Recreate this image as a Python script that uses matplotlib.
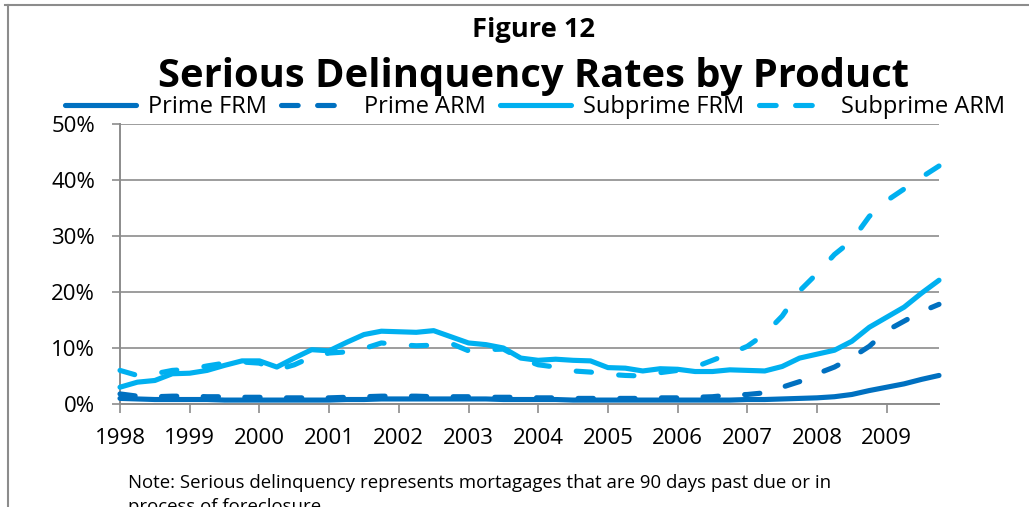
import matplotlib
matplotlib.use("Agg")
import matplotlib.pyplot as plt
import numpy as np
from matplotlib.lines import Line2D

# ---------------- data (quarterly, 1998Q1 .. 2009Q4, percent) ----------------
years = list(range(1998, 2010))
year_labels = [str(y) for y in years]

prime_frm = [1.0, 0.9, 0.8, 0.8,
             0.8, 0.8, 0.7, 0.7,
             0.7, 0.7, 0.7, 0.7,
             0.7, 0.8, 0.8, 0.9,
             0.9, 0.9, 0.9, 0.9,
             0.9, 0.9, 0.8, 0.8,
             0.8, 0.8, 0.7, 0.7,
             0.7, 0.7, 0.7, 0.7,
             0.7, 0.7, 0.7, 0.7,
             0.8, 0.8, 0.9, 1.0,
             1.1, 1.3, 1.7, 2.4,
             3.0, 3.6, 4.4, 5.1]

prime_arm = [1.8, 1.4, 1.3, 1.4,
             1.4, 1.3, 1.3, 1.2,
             1.2, 1.1, 1.1, 1.1,
             1.1, 1.2, 1.3, 1.4,
             1.4, 1.4, 1.3, 1.3,
             1.3, 1.2, 1.2, 1.2,
             1.1, 1.1, 1.0, 1.0,
             1.0, 1.0, 1.0, 1.1,
             1.1, 1.2, 1.3, 1.6,
             1.7, 2.0, 3.0, 4.0,
             5.4, 6.6, 8.3, 10.3,
             13.1, 14.8, 16.5, 17.8]

subprime_frm = [3.0, 3.9, 4.2, 5.4,
                5.5, 6.0, 6.9, 7.7,
                7.7, 6.6, 8.2, 9.7,
                9.5, 11.0, 12.4, 13.0,
                12.9, 12.8, 13.1, 12.0,
                10.9, 10.6, 10.0, 8.2,
                7.8, 8.0, 7.8, 7.7,
                6.5, 6.4, 5.9, 6.3,
                6.2, 5.8, 5.8, 6.1,
                6.0, 5.9, 6.7, 8.2,
                8.9, 9.6, 11.2, 13.7,
                15.5, 17.3, 19.8, 22.1]

subprime_arm = [6.0, 5.1, 5.4, 6.0,
                6.2, 6.8, 7.3, 7.5,
                7.3, 6.1, 7.0, 8.4,
                9.1, 9.3, 9.9, 10.9,
                10.6, 10.4, 10.5, 10.8,
                9.5, 9.7, 9.8, 8.1,
                7.0, 6.6, 5.9, 5.7,
                5.3, 5.1, 5.0, 5.6,
                6.0, 6.6, 7.8, 9.0,
                10.3, 12.5, 15.7, 20.2,
                23.3, 26.7, 29.2, 33.5,
                36.3, 38.4, 40.5, 42.5]

series_names = ["Prime FRM", "Prime ARM", "Subprime FRM", "Subprime ARM"]
y_ticks = [0, 10, 20, 30, 40, 50]
y_tick_labels = ["0%", "10%", "20%", "30%", "40%", "50%"]

# ---------------- style ----------------
DARK = "#0070C0"
LIGHT = "#00B0F0"
GRID = "#8C8C8C"
FONT = ["Open Sans", "DejaVu Sans"]
plt.rcParams["font.family"] = FONT
plt.rcParams["lines.scale_dashes"] = False

W, H, DPI = 1029, 507, 100
fig = plt.figure(figsize=(W / DPI, H / DPI), dpi=DPI)
ax = fig.add_axes([120 / W, 1 - 404 / H, (939 - 120) / W, (404 - 124) / H])

x = years[0] + np.arange(len(prime_frm)) * 0.25
lw = 3.7
ON, OFF = 11.0, 19.0
dash = (0, (ON, OFF))
specs = [(prime_frm, DARK, "-"), (prime_arm, DARK, dash),
         (subprime_frm, LIGHT, "-"), (subprime_arm, LIGHT, dash)]
lines = []
for (vals, col, ls), name in zip(specs, series_names):
    ln, = ax.plot(x, vals, color=col, lw=lw, linestyle=ls, label=name,
                  solid_capstyle="round", dash_capstyle="round",
                  solid_joinstyle="round", dash_joinstyle="round", clip_on=False, zorder=3)
    lines.append(ln)

ax.set_xlim(x[0], x[-1])
ax.set_ylim(0, 50)
ax.set_yticks(y_ticks)
ax.set_yticklabels(y_tick_labels)
ax.set_xticks(years)
ax.set_xticklabels(year_labels)
ax.grid(axis="y", color=GRID, lw=1.2, zorder=1)
ax.set_axisbelow(True)
for s in ["top", "right"]:
    ax.spines[s].set_visible(False)
for s in ["left", "bottom"]:
    ax.spines[s].set_color(GRID)
    ax.spines[s].set_linewidth(1.4)
TICK_FS = 16
ax.tick_params(axis="y", length=6, width=1.2, color=GRID, pad=12, labelsize=TICK_FS)
ax.tick_params(axis="x", length=6.5, width=1.2, color=GRID, pad=11, labelsize=TICK_FS)

# make the Subprime ARM dash pattern start and end on a dash (as in the original)
pts = ax.transData.transform(np.column_stack([x, subprime_arm]))
L = np.sum(np.hypot(*np.diff(pts, axis=0).T)) * 72.0 / DPI
n = max(1, round((L - ON) / (ON + OFF)))
period = (L - ON) / n
lines[3].set_linestyle((0, (ON, period - ON)))

# legend
LEG_FS = 17.0
handles = [Line2D([], [], color=c, lw=lw, linestyle=(0, (12, 14)) if ls != "-" else "-",
                  solid_capstyle="round", dash_capstyle="round")
           for (_, c, ls) in specs]
leg = fig.legend(handles, series_names, loc="center left", ncol=4, frameon=False,
                 bbox_to_anchor=(65 / W, 1 - 107 / H), fontsize=LEG_FS,
                 handlelength=3.0, handletextpad=0.5, columnspacing=0.62,
                 borderpad=0, borderaxespad=0)

# titles
t1 = fig.text(533 / W, 1 - 30 / H, "Figure 12", ha="center", va="center",
              fontsize=17, fontweight="bold")
t2 = fig.text(533 / W, 1 - 77 / H, "Serious Delinquency Rates by Product", ha="center",
              va="center", fontsize=30, fontweight="bold")

# note (second line partly cut by the bottom edge, as in the original)
n1 = fig.text(128 / W, 1 - 488 / H,
              "Note: Serious delinquency represents mortagages that are 90 days past due or in",
              ha="left", va="baseline", fontsize=12)
n2 = fig.text(128 / W, 1 - 512 / H, "process of foreclosure",
              ha="left", va="baseline", fontsize=12)

# fit text widths to the original layout
fig.canvas.draw()
r = fig.canvas.get_renderer()
for t, target in [(t1, 123), (t2, 750), (n1, 700)]:
    w = t.get_window_extent(r).width
    t.set_fontsize(t.get_fontsize() * target / w)
n2.set_fontsize(n1.get_fontsize())

# outer frame (top + left)
fig.add_artist(Line2D([5 / W, 1], [1 - 5 / H, 1 - 5 / H], color="#8C8C8C", lw=1.5,
                      transform=fig.transFigure))
fig.add_artist(Line2D([8 / W, 8 / W], [0, 1 - 5 / H], color="#8C8C8C", lw=1.5,
                      transform=fig.transFigure))

fig.savefig("out.png", dpi=DPI)
